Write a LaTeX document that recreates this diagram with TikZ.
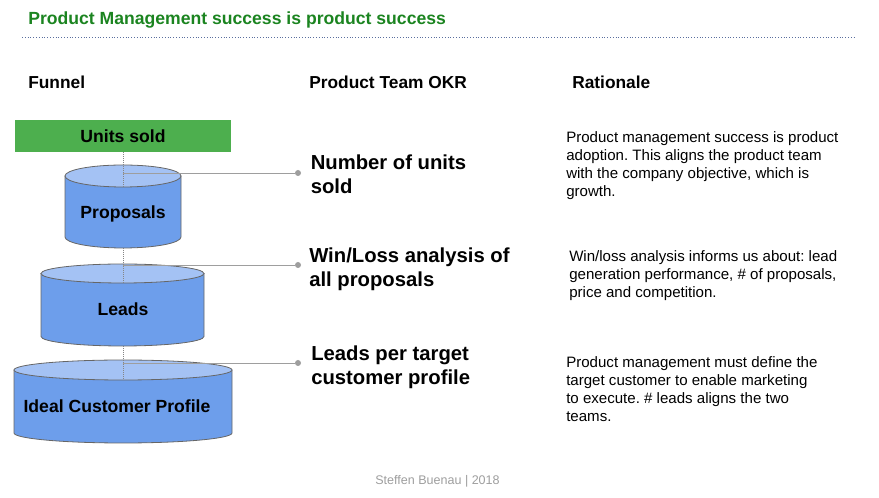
\documentclass[tikz,border=0pt]{standalone}
\usepackage{fontspec}
\setmainfont{Liberation Sans}
\usetikzlibrary{positioning}
\frenchspacing
\definecolor{titlegreen}{HTML}{1B8420}
\definecolor{unitgreen}{HTML}{4DAF4E}
\definecolor{cylblue}{HTML}{6D9EEB}
\definecolor{cyltopblue}{HTML}{A4C2F4}
\definecolor{edgegray}{HTML}{666666}
\definecolor{linkgray}{HTML}{9E9E9E}
\definecolor{rulegray}{HTML}{5A6E9E}
\tikzset{
  titletext/.style={anchor=base west, inner sep=0pt, text=titlegreen,
    font=\fontsize{13.2}{16}\selectfont\bfseries},
  headtext/.style={anchor=base west, inner sep=0pt, font=\fontsize{13}{16}\selectfont\bfseries},
  unitsbox/.style={fill=unitgreen, minimum width=216*0.75pt, minimum height=32*0.75pt,
    inner sep=0pt, font=\fontsize{13.2}{16}\selectfont\bfseries},
  cylbody/.style={fill=cylblue, draw=edgegray, line width=0.6pt},
  cyltop/.style={fill=cyltopblue, draw=edgegray, line width=0.6pt},
  cyllabel/.style={anchor=base, inner sep=0pt, font=\fontsize{13.2}{16}\selectfont\bfseries},
  guide/.style={densely dotted, draw=edgegray!80, line width=0.5pt},
  link/.style={draw=linkgray, line width=0.6pt},
  dot/.style={circle, fill=linkgray, inner sep=0pt, minimum size=4.5pt},
  okrtext/.style={anchor=north west, inner sep=0pt, align=left,
    font=\fontsize{15.2}{18}\selectfont\bfseries},
  whytext/.style={anchor=north west, inner sep=0pt, align=left,
    font=\fontsize{11.3}{13.5}\selectfont},
  credit/.style={inner sep=0pt, text=linkgray, font=\fontsize{9.4}{11}\selectfont}
}
\begin{document}
\begin{tikzpicture}[x=0.75pt, y=-0.75pt]
  \useasboundingbox (0,0) rectangle (879,498);
  \node[titletext] (title) at (28,25) {Product Management success is product success};
  \draw[rulegray, line width=0.6pt, dash pattern=on 0.6pt off 1.5pt] (22,37) -- (856,37);

  \foreach \x/\lab [count=\n] in {28/Funnel, 309/Product Team OKR, 572/Rationale}
    \node[headtext] (head\n) at (\x,89) {\lab};

  \node[unitsbox] (units) at (123,136) {Units sold};

  % funnel stages
  \foreach \nm/\cx/\rx/\yt/\yb/\ry/\ly/\lx/\lb/\lab in {
      prop/123/58/176/237/11/173/123/219/Proposals,
      leads/122.5/81.5/273.5/336.5/9.5/265/123/316/Leads,
      icp/123/109/370/433/10/363/117/413/Ideal Customer Profile} {
    \filldraw[cylbody] (\cx-\rx,\yt) -- (\cx-\rx,\yb)
      arc[start angle=180, end angle=0, x radius=\rx, y radius=\ry] -- (\cx+\rx,\yt) -- cycle;
    \filldraw[cyltop] (\cx,\yt) ellipse[x radius=\rx, y radius=\ry];
    \node[cyllabel] (\nm) at (\lx,\lb) {\lab};
    \coordinate (\nm-top) at (123,\yt+\ry);
    \coordinate (\nm-bot) at (123,\yb+\ry);
    \coordinate (\nm-link) at (123,\ly);
  }
  \draw[guide] (units.south) -- (prop-top);
  \draw[guide] (prop-bot) -- (leads-top);
  \draw[guide] (leads-bot) -- (icp-top);

  \foreach \nm/\y [count=\n] in {prop/173, leads/265, icp/363} {
    \node[dot] (okrdot\n) at (298,\y) {};
    \draw[link] (\nm-link) -- (okrdot\n);
  }

  \node[okrtext] (okr1) at (310.5,155) {Number of units\\sold};
  \node[okrtext] (okr2) at (309,248) {Win/Loss analysis of\\all proposals};
  \node[okrtext] (okr3) at (311,346) {Leads per target\\customer profile};

  \node[whytext] (why1) at (566,131) {Product management success is product\\adoption. This aligns the product team\\with the company objective, which is\\growth.};
  \node[whytext] (why2) at (569,250) {Win/loss analysis informs us about: lead\\generation performance, \# of proposals,\\price and competition.};
  \node[whytext] (why3) at (566,356) {Product management must define the\\target customer to enable marketing\\to execute. \# leads aligns the two\\teams.};

  \node[credit] (footer) at (437.5,481) {Steffen Buenau | 2018};
\end{tikzpicture}
\end{document}
